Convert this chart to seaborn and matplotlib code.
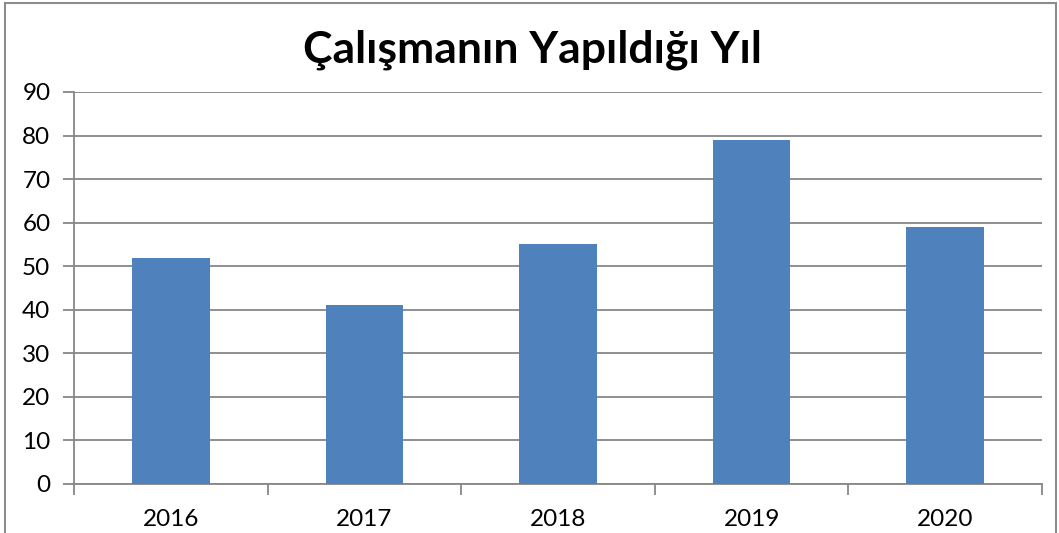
import matplotlib
matplotlib.use("Agg")
import matplotlib.pyplot as plt
import seaborn as sns
import pandas as pd
from matplotlib.patches import Rectangle

years = ["2016", "2017", "2018", "2019", "2020"]
counts = [52, 41, 55, 79, 59]
title = "Çalışmanın Yapıldığı Yıl"

df = pd.DataFrame({"year": years, "count": counts})

sns.set_theme(style="white")
plt.rcParams['font.family'] = ['Lato', 'DejaVu Sans']

fig = plt.figure(figsize=(10.59, 5.33), dpi=100)
ax = fig.add_axes([74 / 1059, 49 / 533, 968 / 1059, 392 / 533])

sns.barplot(data=df, x="year", y="count", color="#4F81BD", saturation=1,
            width=0.4, linewidth=0, ax=ax, zorder=3)

grid_c = "#878787"
ax.set_ylim(0, 90)
ax.set_yticks(range(0, 91, 10))
ax.set_xlim(-0.5, len(years) - 0.5)
ax.yaxis.grid(True, color=grid_c, linewidth=1.3, zorder=0)
ax.set_axisbelow(True)
ax.set_xlabel("")
ax.set_ylabel("")

for s in ["top", "right"]:
    ax.spines[s].set_visible(False)
for s in ["left", "bottom"]:
    ax.spines[s].set_color(grid_c)
    ax.spines[s].set_linewidth(1.3)

# ticks on category boundaries for x, labels centered
ax.set_xticks([i + 0.5 for i in range(-1, len(years))], minor=False)
ax.set_xticklabels([""] * (len(years) + 1))
ax.set_xticks(range(len(years)), minor=True)
ax.set_xticklabels(years, minor=True)
ax.tick_params(axis="x", which="major", length=8, width=1.3, color=grid_c,
               direction="out", bottom=True)
ax.tick_params(axis="x", which="minor", length=0, labelsize=17.5, pad=18,
               labelcolor="black")
ax.tick_params(axis="y", length=8, width=1.3, color=grid_c, direction="out",
               left=True, labelsize=17.5, labelcolor="black", pad=9)

fig.text(532 / 1059, 1 - 50 / 533, title, ha="center", va="center",
         fontsize=32, fontweight="bold", color="black")

fig.add_artist(Rectangle((5 / 1059, -0.02), 1051 / 1059, 1 - 3 / 533 + 0.02,
                         transform=fig.transFigure, fill=False,
                         edgecolor="#8c8c8c", linewidth=1.5))

fig.savefig("out.png", dpi=100)
